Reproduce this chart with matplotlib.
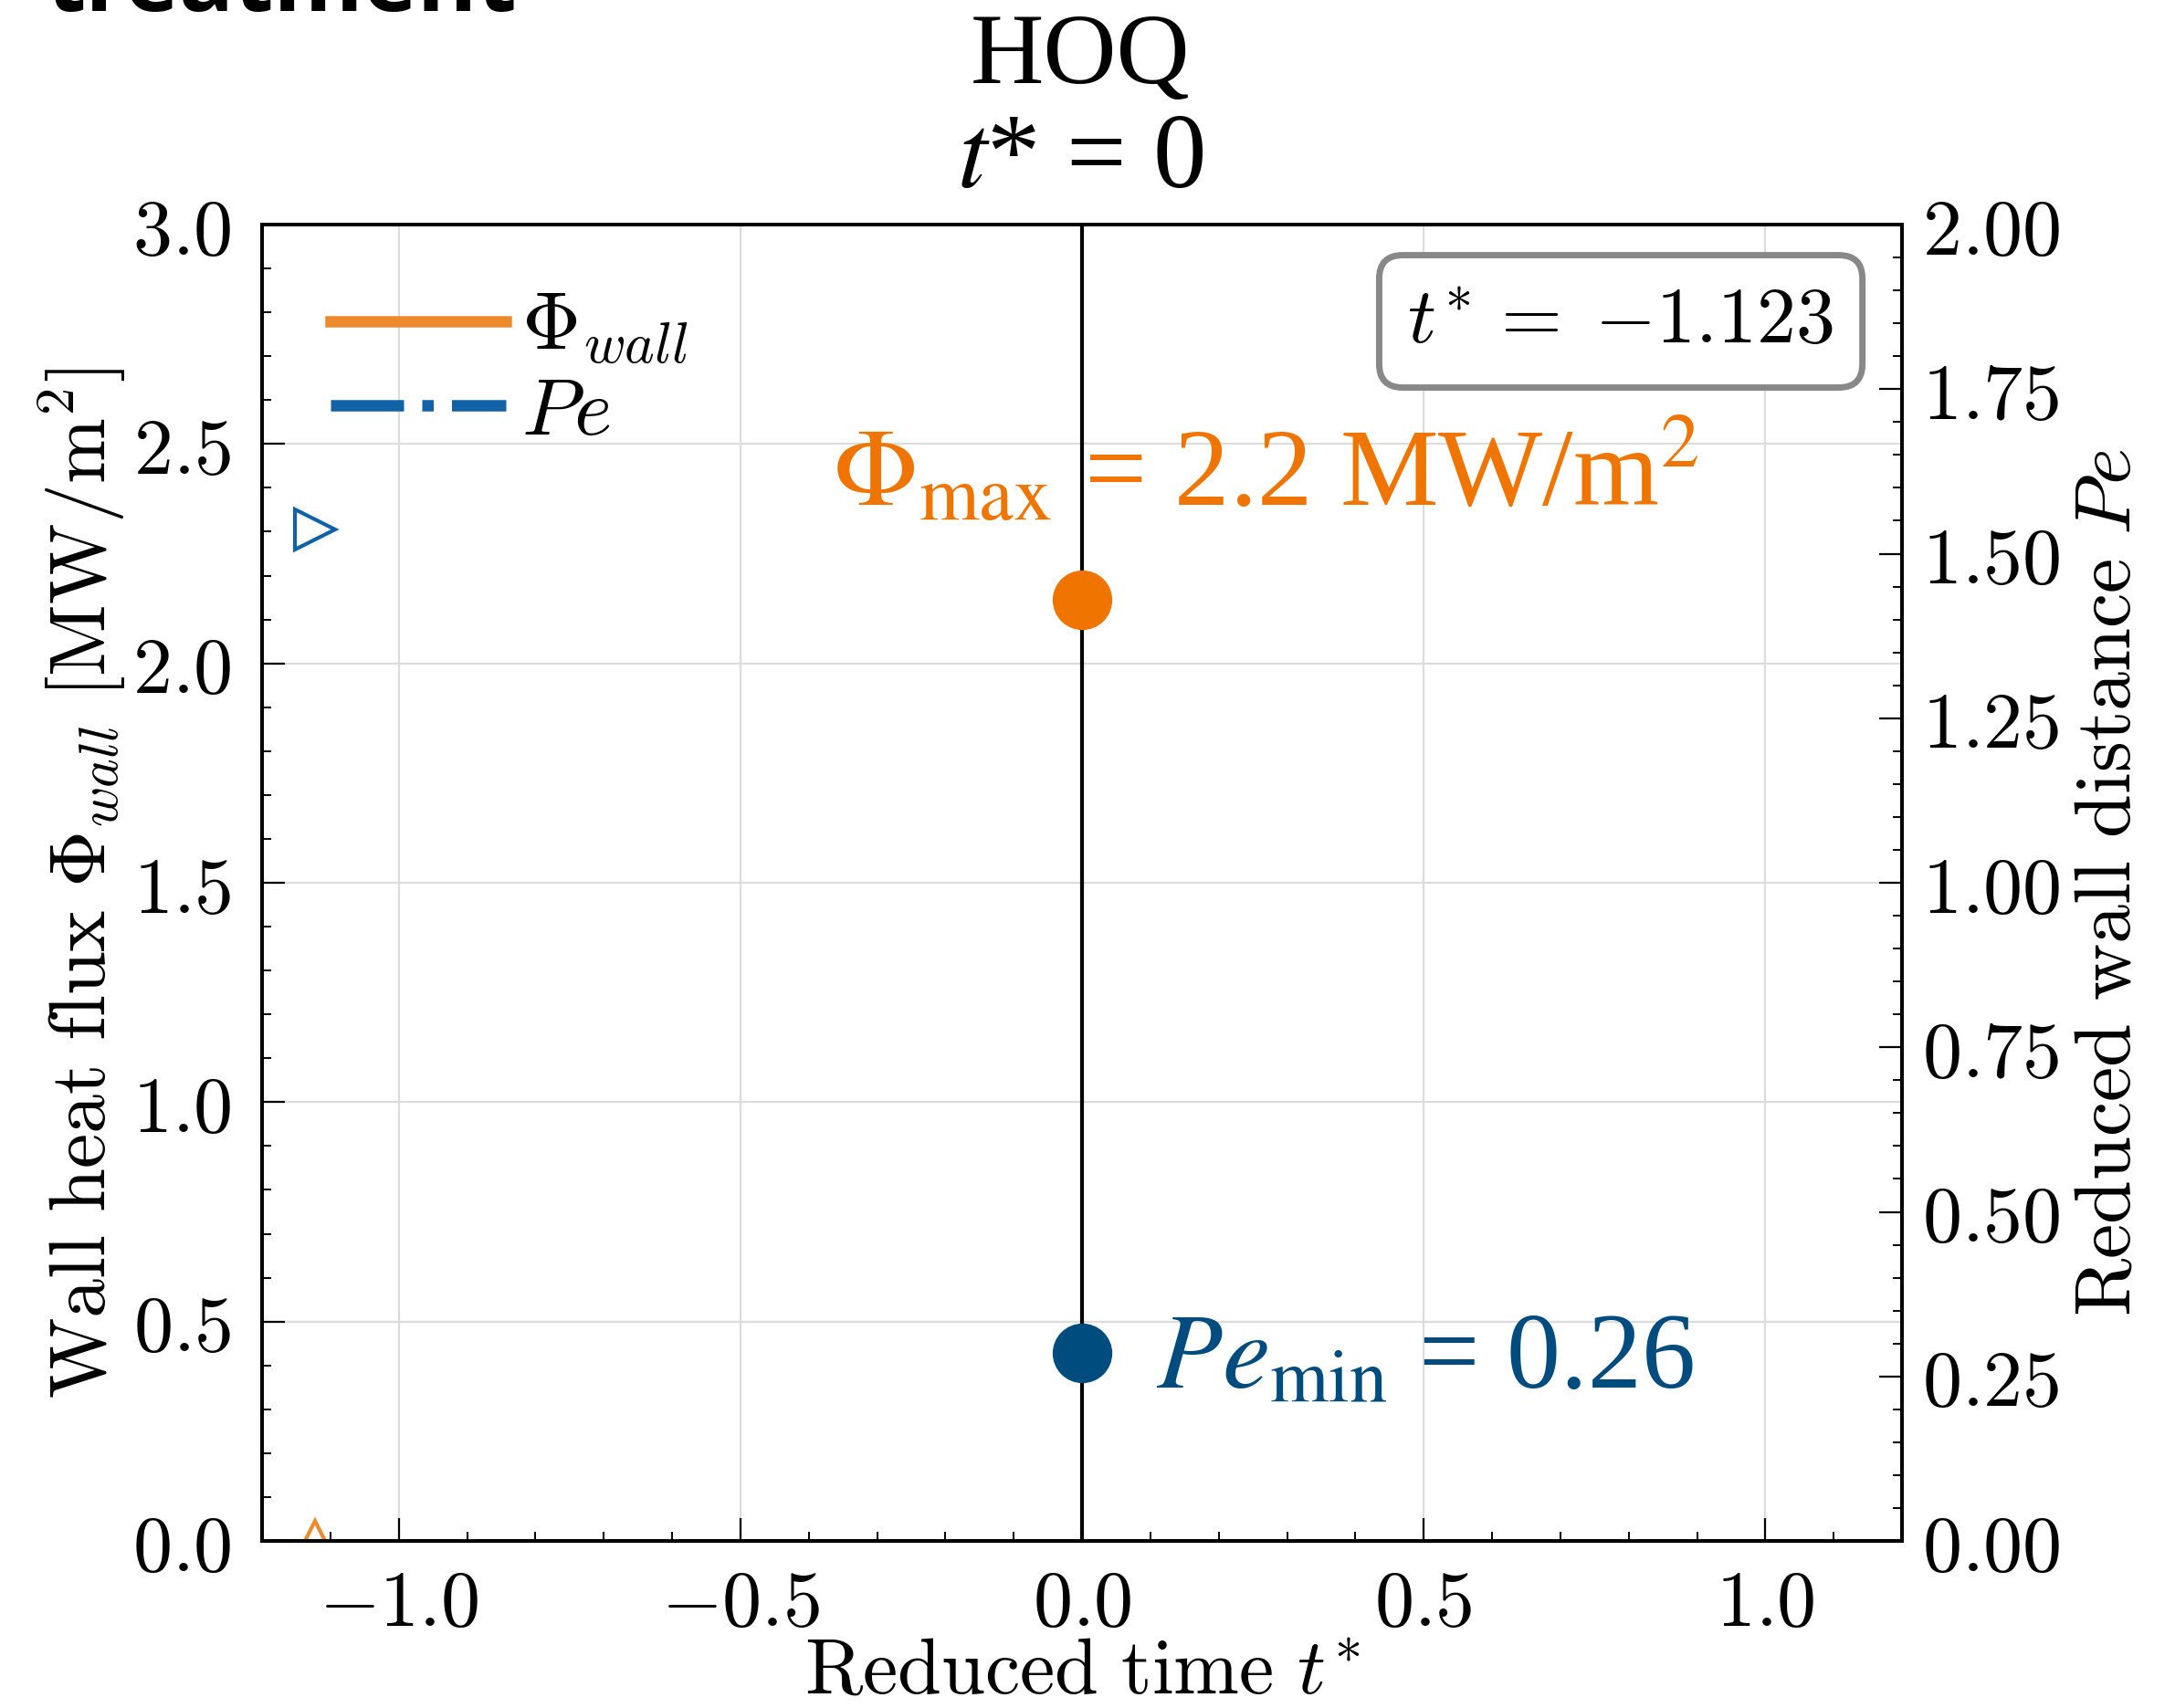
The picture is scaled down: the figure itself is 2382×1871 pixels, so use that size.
import matplotlib
matplotlib.use("Agg")
import matplotlib.pyplot as plt
from matplotlib.ticker import MultipleLocator, FuncFormatter

# ---------- data ----------
t_star = [-1.123]          # current reduced time
phi_wall = [0.0]           # wall heat flux [MW/m2]
pe = [1.537]               # reduced wall distance
t_peak = [0.0]
phi_max = [2.146]          # marker of the flux peak
pe_min = [0.286]           # marker of the minimum Pe

col_phi = "#EE8A2E"
col_pe = "#1262A8"
col_phi_dot = "#F07500"
col_pe_dot = "#004C7F"

plt.rcParams["mathtext.fontset"] = "cm"

FS = 62

fig = plt.figure(figsize=(23.82, 18.71), dpi=100)
ax = fig.add_axes([0.1205, 0.0978, 0.754, 0.7707])
ax2 = ax.twinx()

# ---------- series ----------
ax.plot(t_star, phi_wall, color=col_phi, lw=9, ls="-", label=r"$\Phi_{wall}$")
ax.plot([], [], color=col_pe, lw=9, ls="-.", label=r"$Pe$")
ax.plot(t_star, phi_wall, ls="none", marker="^", ms=31, mfc="none",
        mec=col_phi, mew=3, clip_on=True)
ax2.plot(t_star, pe, ls="none", marker=">", ms=31, mfc="none",
         mec=col_pe, mew=3)

# current time line and peak markers
ax.axvline(0.0, color="black", lw=3, zorder=3)
ax.plot(t_peak, phi_max, ls="none", marker="o", ms=46, color=col_phi_dot, zorder=5)
ax2.plot(t_peak, pe_min, ls="none", marker="o", ms=46, color=col_pe_dot, zorder=5)

# ---------- axes ----------
ax.set_xlim(-1.2, 1.2)
ax.set_ylim(0, 3.0)
ax2.set_ylim(0, 2.0)
ax.xaxis.set_major_locator(MultipleLocator(0.5))
ax.xaxis.set_minor_locator(MultipleLocator(0.1))
ax.yaxis.set_major_locator(MultipleLocator(0.5))
ax.yaxis.set_minor_locator(MultipleLocator(0.1))
ax2.yaxis.set_major_locator(MultipleLocator(0.25))
ax2.yaxis.set_minor_locator(MultipleLocator(0.05))
ax.xaxis.set_major_formatter(FuncFormatter(lambda v, p: r"$%.1f$" % v))
ax.yaxis.set_major_formatter(FuncFormatter(lambda v, p: r"$%.1f$" % v))
ax2.yaxis.set_major_formatter(FuncFormatter(lambda v, p: r"$%.2f$" % v))

for a in (ax, ax2):
    a.tick_params(which="major", direction="in", length=18, width=1.6, labelsize=FS)
    a.tick_params(which="minor", direction="in", length=7, width=1.4)
    for s in a.spines.values():
        s.set_linewidth(2.8)
ax.tick_params(axis="x", which="both", top=False, pad=20)
ax.tick_params(axis="y", which="both", right=False, pad=24)
ax2.tick_params(axis="y", which="both", left=False, pad=16)

ax.grid(True, which="major", color="#dcdcdc", lw=1.6)
ax.set_axisbelow(True)

ax.set_xlabel(r"$\mathrm{Reduced\ time}\ t^{\!*}$", fontsize=FS, labelpad=-6)
ax.set_ylabel(r"$\mathrm{Wall\ heat\ flux}\ \Phi_{wall}\ [\mathrm{MW/m^2}]$",
              fontsize=FS, labelpad=4)
ax2.set_ylabel(r"$\mathrm{Reduced\ wall\ distance}\ Pe$", fontsize=FS, labelpad=8)

leg = ax.legend(loc="upper left", bbox_to_anchor=(0.042, 0.952), frameon=False,
                fontsize=64, handlelength=2.15, handletextpad=0.2,
                borderpad=0, borderaxespad=0, labelspacing=0.06)

ax.text(0.8285, 0.9265, r"$t^{\!*} =\; {-1.123}$", transform=ax.transAxes,
        ha="center", va="center", fontsize=FS, zorder=6,
        bbox=dict(boxstyle="round,pad=0.36,rounding_size=0.3", fc="white",
                  ec="#888888", lw=5))

# slide annotations
ax.text(0.348, 0.7857, r"$\Phi_{\mathrm{max}}$ = 2.2 MW/m$^2$", transform=ax.transAxes,
        ha="left", va="baseline", fontsize=87, color=col_phi_dot,
        family="Liberation Serif", math_fontfamily="stix", zorder=6)
ax.text(0.5451, 0.1158, r"$Pe_{\mathrm{min}}$ = 0.26", transform=ax.transAxes,
        ha="left", va="baseline", fontsize=85, color=col_pe_dot,
        family="Liberation Serif", math_fontfamily="stix", zorder=6)

# title lines from the slide
fig.text(1183 / 2382, 1 - 91 / 1871, "HOQ", ha="center", va="baseline",
         fontsize=80, family="Liberation Serif")
fig.text(1183 / 2382, 1 - 205 / 1871, r"$t$* = 0", ha="center", va="baseline",
         fontsize=84, family="Liberation Serif", math_fontfamily="stix")
fig.text(51 / 2382, 1 - 12 / 1871, "treatment", ha="left", va="baseline",
         fontsize=72, family="Open Sans", fontweight="bold")

fig.savefig("out.png", dpi=100)
